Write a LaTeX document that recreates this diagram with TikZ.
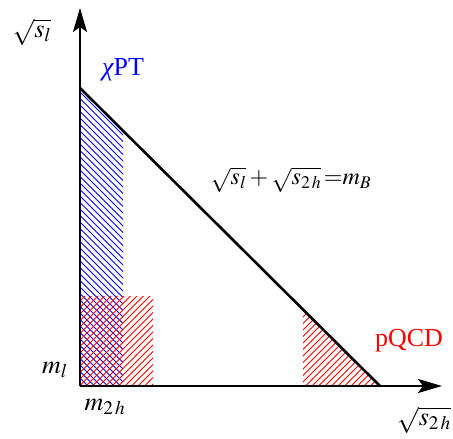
\documentclass[tikz,border=0pt]{standalone}
\usepackage{mathptmx}
\usepackage{fontspec}
\setmainfont{Liberation Serif}
\usetikzlibrary{arrows.meta}
\begin{document}
\begin{tikzpicture}[x=1pt,y=-1pt,
  axis/.style={line width=2.6pt,-{Stealth[length=24pt,width=14pt,inset=5pt]}},
  bound/.style={line width=2.6pt},
  bluehatch/.style={blue,line width=0.8pt},
  redhatch/.style={red,line width=0.8pt},
  lab/.style={inner sep=0pt,font=\fontsize{26}{30}\selectfont}]
\useasboundingbox (0,0) rectangle (453,439);
\coordinate (O) at (80,386);
\coordinate (Ytip) at (80,8);
\coordinate (Xtip) at (442,386);
\coordinate (A) at (80,88);
\coordinate (B) at (380,386);
% blue hatching
\begin{scope}
  \clip (80,88) -- (80,386) -- (123,386) -- (123,130.7) -- cycle;
  \foreach \k in {-400,-393.5,...,100}
    \draw[bluehatch] (\k,80) -- ++(320,320);
\end{scope}
% red hatching rectangle
\begin{scope}
  \clip (80,296) rectangle (153,386);
  \foreach \k in {0,6.5,...,500}
    \draw[redhatch] (\k,290) -- ++(-110,110);
\end{scope}
% red hatching triangle
\begin{scope}
  \clip (303,309.5) -- (303,386) -- (380,386) -- cycle;
  \foreach \k in {200,206.5,...,600}
    \draw[redhatch] (\k,290) -- ++(-110,110);
\end{scope}
\draw[bound] (A) -- (B);
\draw[axis] (O) -- (Ytip);
\draw[axis] (O) -- (Xtip);
\node[lab] (ly) at (32,32) {$\sqrt{s_l}$};
\node[lab,blue] (chpt) at (123,70) {{\itshape χ}PT};
\node[lab,font=\fontsize{24}{28}\selectfont] (eq) at (291,180) {$\sqrt{s_l}+\sqrt{s_{2\,h}}\,{=}m_B$};
\node[lab,red] (pqcd) at (409,341) {pQCD};
\node[lab] (ml) at (55,370) {$m_l$};
\node[lab] (m2h) at (105,407) {$m_{2\,h}$};
\node[lab] (lx) at (424,420) {$\sqrt{s_{2\,h}}$};
\end{tikzpicture}
\end{document}
